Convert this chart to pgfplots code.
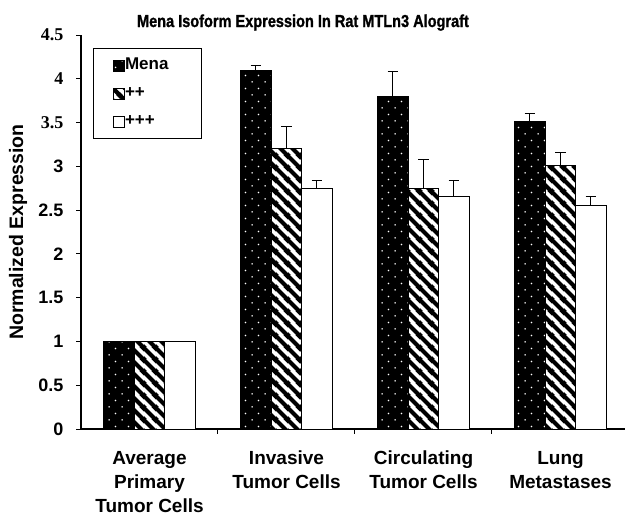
\documentclass[border=0pt]{standalone}
\usepackage{pgfplots}
\pgfplotsset{compat=1.18}
\usepackage{fontspec}
\setmainfont{Liberation Sans}
\newfontfamily\serifb{Liberation Serif}
\newfontfamily\condb[FakeStretch=0.84, FakeBold=1.2]{Liberation Sans Bold}
\usetikzlibrary{patterns}

\pgfdeclarepatternformonly{menadots}{\pgfqpoint{0pt}{0pt}}{\pgfqpoint{13.3pt}{13.3pt}}{\pgfqpoint{13.3pt}{13.3pt}}{%
  \pgfpathcircle{\pgfqpoint{3.3pt}{3.3pt}}{0.9pt}%
  \pgfpathcircle{\pgfqpoint{9.95pt}{9.95pt}}{0.9pt}%
  \pgfusepath{fill}}
\pgfdeclarepatternformonly{hatchNW}{\pgfqpoint{0pt}{0pt}}{\pgfqpoint{12pt}{12pt}}{\pgfqpoint{12pt}{12pt}}{%
  \pgfsetlinewidth{4.4pt}%
  \pgfpathmoveto{\pgfqpoint{-3pt}{3pt}}\pgfpathlineto{\pgfqpoint{3pt}{-3pt}}%
  \pgfpathmoveto{\pgfqpoint{-3pt}{15pt}}\pgfpathlineto{\pgfqpoint{15pt}{-3pt}}%
  \pgfpathmoveto{\pgfqpoint{9pt}{15pt}}\pgfpathlineto{\pgfqpoint{15pt}{9pt}}%
  \pgfusepath{stroke}}

\pgfplotstableread{
x y e
0 1.00 0.00
1 4.10 0.05
2 3.80 0.28
3 3.51 0.09
}\mena
\pgfplotstableread{
x y e
0 1.00 0.00
1 3.20 0.25
2 2.75 0.33
3 3.01 0.15
}\plusplus
\pgfplotstableread{
x y e
0 1.00 0.00
1 2.75 0.09
2 2.66 0.18
3 2.55 0.10
}\plusplusplus

\pgfplotsset{
  sqlegend/.style={legend image code/.code={\draw[##1, line width=1pt] (0pt,-5.5pt) rectangle (11pt,5.5pt);}},
}
\tikzset{
  catlabel/.style={anchor=north, inner sep=0pt, align=center, yshift=-22pt,
      font=\fontsize{19pt}{24pt}\selectfont\bfseries},
}

\begin{document}
\begin{tikzpicture}
\path[use as bounding box] (-81pt,-86pt) rectangle (544pt,429pt);
\begin{axis}[
  scale only axis, width=544pt, height=394pt,
  xmin=-0.5, xmax=3.4708, ymin=0, ymax=4.5,
  axis x line*=bottom, axis y line*=left,
  axis line style={line width=1.2pt, black},
  ybar=0pt, bar width=30.5pt,
  tick align=outside, major tick length=4.5pt,
  tick style={black, line width=1pt},
  /pgf/number format/assume math mode=true,
  xtick={0.5,1.5,2.5}, xticklabels={},
  ytick={0,0.5,1,1.5,2,2.5,3,3.5,4,4.5},
  yticklabels={0,0.5,1,1.5,2,2.5,3,{\serifb 3.5},{\serifb 4},{\serifb 4.5}},
  yticklabel style={font=\fontsize{18pt}{20pt}\selectfont\bfseries, anchor=east, inner sep=0pt, xshift=-13pt},
  ylabel={Normalized Expression},
  ylabel style={at={(axis description cs:-0.1158,0.5)}, anchor=center, font=\fontsize{19.5pt}{22pt}\selectfont\bfseries},
  title={Mena Isoform Expression In Rat MTLn3 Alograft},
  title style={at={(axis description cs:0.408,1)}, anchor=base, yshift=2pt, font=\condb\fontsize{17.3pt}{19pt}\selectfont},
  legend style={at={(axis description cs:0.0221,0.967)}, anchor=north west, draw=black, line width=1pt,
    inner xsep=19pt, inner ysep=9pt, row sep=12pt,
    font=\fontsize{17pt}{19pt}\selectfont\bfseries,
    nodes={inner xsep=0.5pt, inner ysep=0pt, text height=12pt, text depth=4pt}},
  legend cell align=left,
  error bars/y dir=plus, error bars/y explicit,
  error bars/error bar style={line width=1pt, black},
  error bars/error mark options={rotate=90, mark size=5.3pt, line width=1pt, black},
  clip=false,
]
\addplot[sqlegend, draw=black, line width=1pt, preaction={fill=black}, pattern=menadots, pattern color=white]
  table[x=x, y=y, y error=e]{\mena};
\addplot[sqlegend, draw=black, line width=1pt, preaction={fill=white}, pattern=hatchNW, pattern color=black]
  table[x=x, y=y, y error=e]{\plusplus};
\addplot[sqlegend, draw=black, line width=1pt, fill=white]
  table[x=x, y=y, y error=e]{\plusplusplus};
\legend{\makebox[57pt][l]{Mena},\makebox[57pt][l]{++},\makebox[57pt][l]{+++}}
\node[catlabel] at (axis cs:0,0) {Average\\Primary\\Tumor Cells};
\node[catlabel] at (axis cs:1,0) {Invasive\\Tumor Cells};
\node[catlabel] at (axis cs:2,0) {Circulating\\Tumor Cells};
\node[catlabel] at (axis cs:3,0) {Lung\\Metastases};
\end{axis}
\end{tikzpicture}
\end{document}
